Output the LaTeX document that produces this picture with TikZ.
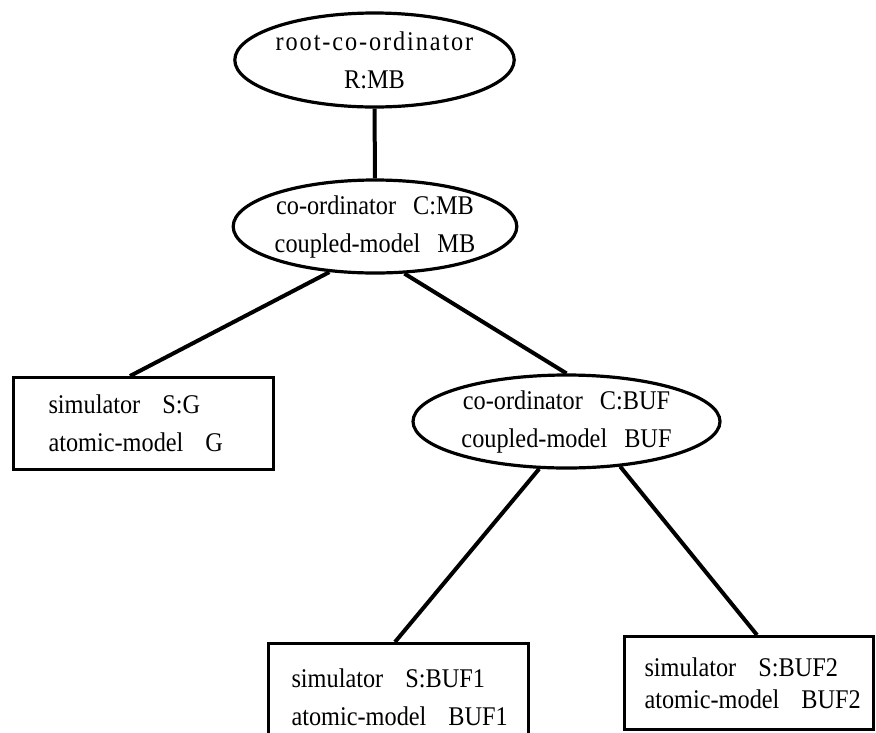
\documentclass[tikz,border=0pt]{standalone}
\usepackage{fontspec}
\setmainfont{Liberation Serif}[FakeStretch=0.9]
\usetikzlibrary{shapes.geometric,calc}
\begin{document}
\begin{tikzpicture}[x=1pt,y=-1pt,
  label text/.style={font=\fontsize{27}{38}\selectfont},
  coordbox/.style={label text, ellipse, draw, line width=3.2pt, align=center, inner sep=0pt},
  simbox/.style={label text, rectangle, draw, line width=3pt, align=left, anchor=north west, inner ysep=0pt},
  link/.style={line width=4pt}]
\useasboundingbox (0,0) rectangle (876,732);
\clip (0,0) rectangle (876,732);
\newcommand{\egap}{\hspace{17pt}}
\newcommand{\bgap}{\hspace{22pt}}
\newcommand{\oneline}[1]{\mbox{#1}}

% coordinators
\node[coordbox, minimum width=255pt, minimum height=94pt] (root) at (374.5,60)
  {\addfontfeatures{LetterSpace=7}\oneline{root-co-ordinator}\\R:MB};
\node[coordbox, minimum width=262pt, minimum height=93pt] (cmb) at (375,226.5)
  {\oneline{co-ordinator\egap C:MB}\\\oneline{coupled-model\egap MB}};
\node[coordbox, minimum width=307pt, minimum height=93pt] (cbuf) at (566.5,421.5)
  {\oneline{co-ordinator\egap C:BUF}\\\oneline{coupled-model\egap BUF}};

% simulators
\node[simbox, minimum width=260pt, minimum height=92pt, inner xsep=35pt, text width=190pt] (sg) at (12,376)
  {\oneline{simulator\bgap S:G}\\\oneline{atomic-model\bgap G}};
\node[simbox, minimum width=260pt, minimum height=108pt, inner xsep=23pt, text width=214pt] (sb1) at (267,642)
  {\oneline{simulator\bgap S:BUF1}\\\oneline{atomic-model\bgap BUF1}};
\node[simbox, minimum width=249pt, minimum height=93pt, inner xsep=20pt, text width=209pt,
      font=\fontsize{27}{32}\selectfont] (sb2) at (623,635)
  {\oneline{simulator\bgap S:BUF2}\\\oneline{atomic-model\bgap BUF2}};

% hierarchy links
\draw[link] (root) -- (cmb);
\draw[link] (cmb.225) -- ($(sg.north west)+(118,0)$);
\draw[link] (cmb.302) -- (cbuf.north);
\draw[link] (cbuf.240) -- ($(sb1.north west)+(128,0)$);
\draw[link] (cbuf.320) -- ($(sb2.north west)+(134,0)$);
\end{tikzpicture}
\end{document}
